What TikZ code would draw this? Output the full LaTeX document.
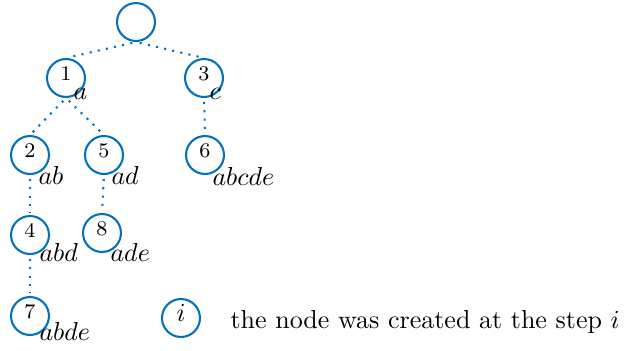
\documentclass[tikz,border=0pt]{standalone}
\definecolor{treeblue}{RGB}{0,114,189}
\tikzset{
  tnode/.style={circle,draw=treeblue,line width=0.8pt,minimum size=14.6pt,inner sep=0pt,
    font=\footnotesize,text height=5.2pt,text depth=3pt},
  lnode/.style={circle,draw=treeblue,line width=0.8pt,minimum size=14.6pt,inner sep=0pt,
    text height=5.6pt,text depth=3pt},
  tlabel/.style={anchor=base west,inner sep=0pt},
  tedge/.style={draw=treeblue,line width=0.8pt,dash pattern=on 0.8pt off 2.4pt,
    shorten <=1.5pt,shorten >=1pt}
}
\begin{document}
\begin{tikzpicture}[x=0.3846pt,y=-0.3846pt]
\useasboundingbox (0,0) rectangle (629,351);
\node[tnode] (r) at (136,22) {};
\node[tnode] (n1) at (66,78) {1};
\node[tnode] (n3) at (204,78) {3};
\node[tnode] (n2) at (30,155) {2};
\node[tnode] (n5) at (104,155) {5};
\node[tnode] (n6) at (205,155) {6};
\node[tnode] (n4) at (30,235) {4};
\node[tnode] (n8) at (102,233) {8};
\node[tnode] (n7) at (30,316) {7};
\node[lnode] (leg) at (181,318) {$i$};
\node[tlabel] (la) at (73,99) {$a$};
\node[tlabel] (lc) at (209,99) {$c$};
\node[tlabel] (lab) at (38,184) {$ab$};
\node[tlabel] (lad) at (111,184) {$ad$};
\node[tlabel] (labcde) at (212,185) {$abcde$};
\node[tlabel] (labd) at (39,261) {$abd$};
\node[tlabel] (lade) at (110,261) {$ade$};
\node[tlabel] (labde) at (39,340) {$abde$};
\node[tlabel] (txt) at (230,328) {the node was created at the step $i$};
\path[tedge] (r.south) -- (n1.north);
\path[tedge] (r.south) -- (n3.north);
\path[tedge] (n1.south) -- (n2.north);
\path[tedge] (n1.south) -- (n5.north);
\path[tedge] (n3.south) -- (n6.north);
\path[tedge] (n2.south) -- (n4.north);
\path[tedge] (n5.south) -- (n8.north);
\path[tedge] (n4.south) -- (n7.north);
\end{tikzpicture}
\end{document}
